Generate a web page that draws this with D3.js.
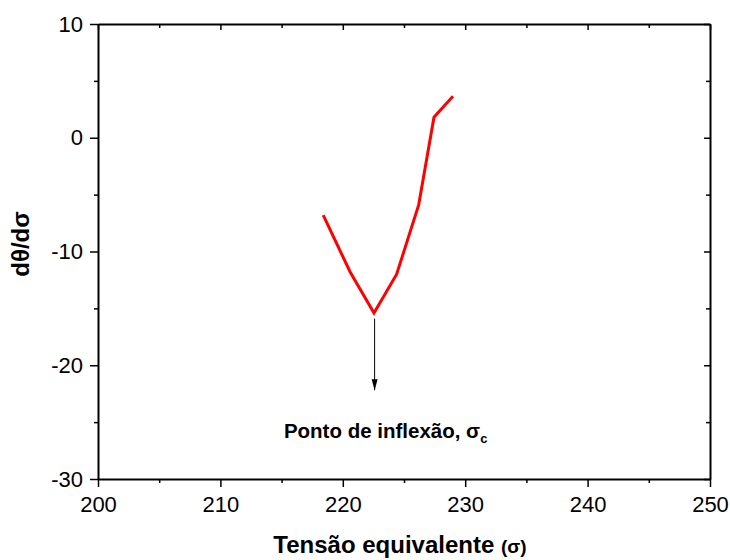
<!DOCTYPE html>
<html lang="pt">
<head>
<meta charset="utf-8">
<title>dθ/dσ x Tensão equivalente</title>
<script src="https://cdn.jsdelivr.net/npm/d3@7"></script>
<style>
  body { margin: 0; background: #fff; }
  svg { display: block; font-family: Arial, "Liberation Sans", sans-serif; }
  .axis path, .axis line { stroke: #000; }
  .axis path { stroke-width: 2; }
  .axis line { stroke-width: 1.5; }
  .axis text { font-size: 22px; fill: #000; }
  .axis-title { font-weight: bold; font-size: 24px; text-anchor: middle; }
  .note { font-weight: bold; font-size: 20.5px; }
  .curve { fill: none; stroke: #ff0000; stroke-width: 3; stroke-linejoin: miter; }
</style>
</head>
<body>
<div id="chart"></div>
<script>
// values
var sigma = [218.4, 220.6, 222.55, 224.4, 226.2, 227.45, 229.0];
var dThetaDSigma = [-6.8, -11.8, -15.4, -12.0, -5.9, 1.8, 3.65];
var xTicks = [200, 210, 220, 230, 240, 250];
var xMinor = [205, 215, 225, 235, 245];
var yTicks = [-30, -20, -10, 0, 10];
var yMinor = [-25, -15, -5, 5];
var arrowFrom = [222.6, -15.9];
var arrowTo = [222.6, -22.2];
var noteAt = [223.5, -26.4];

var W = 730, H = 560,
    margin = {top: 24, right: 20, bottom: 81, left: 98},
    width = W - margin.left - margin.right,
    height = H - margin.top - margin.bottom;

// plain hyphen for negatives, like the original
var fmt = function(d) { return String(d); };

var svg = d3.select("#chart").append("svg")
    .attr("width", W)
    .attr("height", H);

var defs = svg.append("defs");
defs.append("marker")
    .attr("id", "head")
    .attr("viewBox", "0 0 10 10")
    .attr("refX", 10).attr("refY", 5)
    .attr("markerWidth", 11).attr("markerHeight", 11)
    .attr("markerUnits", "userSpaceOnUse")
    .attr("orient", "auto")
  .append("path")
    .attr("d", "M0,2.3 L10,5 L0,7.7 Z")
    .attr("fill", "#000");

var plt = svg.append("g")
    .attr("transform", "translate(" + margin.left + "," + margin.top + ")");

var x = d3.scaleLinear().domain([200, 250]).range([0, width]);
var y = d3.scaleLinear().domain([-30, 10]).range([height, 0]);

// minor ticks first (no labels)
plt.append("g").attr("class", "axis")
    .attr("transform", "translate(0," + height + ")")
    .call(d3.axisBottom(x).tickValues(xMinor).tickSize(4).tickFormat(""))
    .select(".domain").remove();
plt.append("g").attr("class", "axis")
    .call(d3.axisLeft(y).tickValues(yMinor).tickSize(4).tickFormat(""))
    .select(".domain").remove();
plt.append("g").attr("class", "axis")
    .call(d3.axisTop(x).tickValues(xMinor).tickSize(-4).tickFormat(""))
    .select(".domain").remove();
plt.append("g").attr("class", "axis")
    .attr("transform", "translate(" + width + ",0)")
    .call(d3.axisRight(y).tickValues(yMinor).tickSize(-4).tickFormat(""))
    .select(".domain").remove();

// top and right: inward major ticks, frame
plt.append("g").attr("class", "axis")
    .call(d3.axisTop(x).tickValues(xTicks).tickSizeInner(-6).tickSizeOuter(0).tickFormat(""));
plt.append("g").attr("class", "axis")
    .attr("transform", "translate(" + width + ",0)")
    .call(d3.axisRight(y).tickValues(yTicks).tickSizeInner(-6).tickSizeOuter(0).tickFormat(""));

// bottom and left: outward major ticks with labels
plt.append("g").attr("class", "axis")
    .attr("transform", "translate(0," + height + ")")
    .call(d3.axisBottom(x).tickValues(xTicks).tickSizeInner(8).tickSizeOuter(0).tickPadding(9).tickFormat(fmt));
plt.append("g").attr("class", "axis")
    .call(d3.axisLeft(y).tickValues(yTicks).tickSizeInner(8).tickSizeOuter(0).tickPadding(7).tickFormat(fmt));

var line = d3.line()
    .x(function(d, i) { return x(sigma[i]); })
    .y(function(d) { return y(d); });

plt.append("path")
    .datum(dThetaDSigma)
    .attr("class", "curve")
    .attr("d", line);

// arrow to the inflection point label
plt.append("line")
    .attr("x1", x(arrowFrom[0])).attr("y1", y(arrowFrom[1]))
    .attr("x2", x(arrowTo[0])).attr("y2", y(arrowTo[1]))
    .attr("stroke", "#000")
    .attr("stroke-width", 1)
    .attr("marker-end", "url(#head)");

var note = plt.append("text")
    .attr("class", "note")
    .attr("x", x(noteAt[0]))
    .attr("y", y(noteAt[1]))
    .attr("text-anchor", "middle");
note.append("tspan").text("Ponto de inflexão, σ");
note.append("tspan").attr("dy", 5).style("font-size", "13px").text("c");

// axis titles
var xt = svg.append("text")
    .attr("class", "axis-title")
    .attr("x", margin.left + width / 2 - 4)
    .attr("y", 553);
xt.append("tspan").text("Tensão equivalente ");
xt.append("tspan").style("font-size", "19px").text("(σ)");

svg.append("text")
    .attr("class", "axis-title")
    .attr("transform", "rotate(-90)")
    .attr("x", -244)
    .attr("y", 29)
    .text("dθ/dσ");
</script>
</body>
</html>
